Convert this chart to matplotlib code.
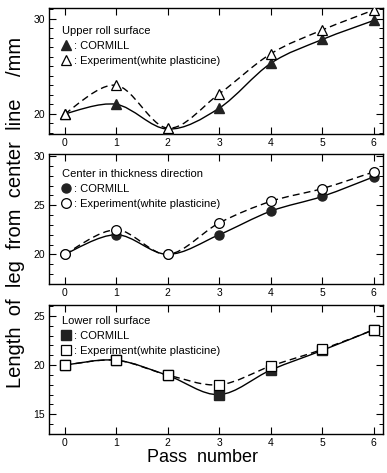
import numpy as np
import matplotlib
matplotlib.use("Agg")
import matplotlib.pyplot as plt
from matplotlib.path import Path
from matplotlib.patches import PathPatch
from matplotlib.ticker import MultipleLocator

plt.rcParams['font.family'] = ['Liberation Sans', 'DejaVu Sans']

passes = [0, 1, 2, 3, 4, 5, 6]

# upper roll surface
upper_cormill = [20.0, 21.0, 18.4, 20.6, 25.3, 27.8, 29.8]
upper_exp = [20.0, 23.0, 18.5, 22.1, 26.3, 28.8, 30.9]

# center in thickness direction
center_cormill = [20.0, 22.0, 20.0, 22.0, 24.4, 25.9, 27.9]
center_exp = [20.0, 22.5, 20.0, 23.2, 25.4, 26.7, 28.4]

# lower roll surface
lower_cormill = [20.0, 20.5, 18.95, 17.0, 19.5, 21.5, 23.6]
lower_exp = [20.0, 20.5, 19.0, 18.0, 19.9, 21.6, 23.6]

titles = ['Upper roll surface', 'Center in thickness direction', 'Lower roll surface']
markers = ['^', 'o', 's']
ylims = [(17.9, 31.1), (17.0, 30.2), (13.0, 26.1)]
yticks = [[20, 30], [20, 25, 30], [15, 20, 25]]
legend_top = [0.935, 0.965, 0.99]


def smooth_path(x, y):
    # Catmull-Rom spline through the points, as cubic bezier segments
    x = np.asarray(x, float)
    y = np.asarray(y, float)
    p = np.column_stack([x, y])
    pts = [p[0]]
    codes = [Path.MOVETO]
    n = len(p)
    for i in range(n - 1):
        p0 = p[i - 1] if i > 0 else p[i]
        p1 = p[i]
        p2 = p[i + 1]
        p3 = p[i + 2] if i + 2 < n else p[i + 1]
        c1 = p1 + (p2 - p0) / 6.0
        c2 = p2 - (p3 - p1) / 6.0
        pts += [c1, c2, p2]
        codes += [Path.CURVE4] * 3
    return Path(pts, codes)


fig = plt.figure(figsize=(3.87, 4.73), dpi=100)
boxes = [[0.127, 0.717, 0.863, 0.266],
         [0.127, 0.400, 0.863, 0.274],
         [0.127, 0.0825, 0.863, 0.2725]]
series = [(upper_cormill, upper_exp), (center_cormill, center_exp), (lower_cormill, lower_exp)]

for k in range(3):
    ax = fig.add_axes(boxes[k])
    cm, ex = series[k]
    ax.add_patch(PathPatch(smooth_path(passes, ex), fill=False, ec='black',
                           lw=1.0, ls=(0, (5, 3)), zorder=2))
    ax.add_patch(PathPatch(smooth_path(passes, cm), fill=False, ec='black',
                           lw=1.0, zorder=2))
    h1, = ax.plot(passes, cm, ls='none', marker=markers[k], ms=6.5,
                  mfc='#222222', mec='#222222', zorder=3, label=': CORMILL')
    h2, = ax.plot(passes, ex, ls='none', marker=markers[k], ms=7,
                  mfc='white', mec='black', mew=0.9, zorder=4,
                  label=': Experiment(white plasticine)')

    ax.set_xlim(-0.3, 6.18)
    ax.set_ylim(*ylims[k])
    ax.set_xticks(passes)
    ax.set_yticks(yticks[k])
    ax.yaxis.set_minor_locator(MultipleLocator(1))
    ax.tick_params(axis='both', which='both', direction='in', top=True, right=True,
                   labelsize=7.5, pad=3)
    ax.tick_params(which='major', length=5, width=0.8)
    ax.tick_params(which='minor', length=3, width=0.7)
    for s in ax.spines.values():
        s.set_linewidth(1.0)

    leg = ax.legend(handles=[h1, h2], title=titles[k], loc='upper left',
                    bbox_to_anchor=(0.01, legend_top[k]), frameon=False, fontsize=8,
                    title_fontsize=8, handlelength=0.6, handletextpad=0.4,
                    labelspacing=0.45, borderaxespad=0.5, alignment='left')

fig.text(0.039, 0.55, 'Length  of  leg  from  center  line    /mm', rotation=90,
         ha='center', va='center', fontsize=14.5)
fig.text(0.522, 0.032, 'Pass  number', ha='center', va='center', fontsize=13)

fig.savefig('out.png', dpi=100)
